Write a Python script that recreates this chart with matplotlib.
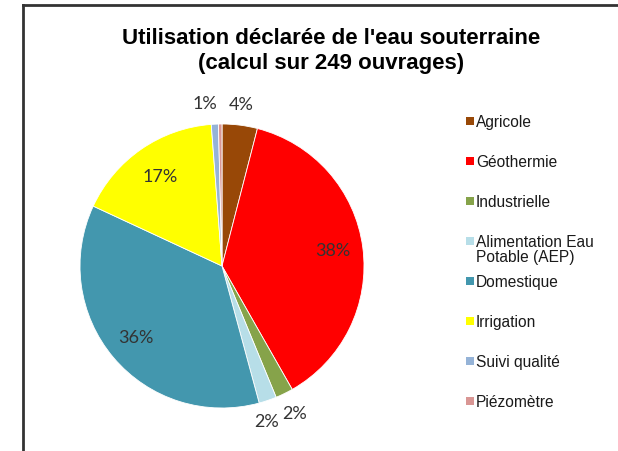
import numpy as np
import matplotlib.pyplot as plt
from matplotlib.lines import Line2D
from matplotlib.patches import Rectangle

labels = ["Agricole", "Géothermie", "Industrielle", "Alimentation Eau\nPotable (AEP)",
          "Domestique", "Irrigation", "Suivi qualité", "Piézomètre"]
counts = [10, 94, 5, 5, 90, 42, 2, 1]
pct_text = ["4%", "38%", "2%", "2%", "36%", "17%", "1%", ""]
colors = ["#984807", "#FF0000", "#86A34A", "#B7DEE8", "#4397AE", "#FFFF00", "#95B3D7", "#D99694"]

# label radius (fraction of pie radius) and sideways nudge per slice
lab_r = [1.14, 0.79, 1.16, 1.16, 0.79, 0.76, 1.14, 0]
lab_dx = [-0.01, 0, 0, -0.06, 0, 0, -0.06, 0]

W, H = 618, 451
fig = plt.figure(figsize=(W / 100, H / 100), dpi=100)

cx, cy, r = 222, 266, 142
ax = fig.add_axes([(cx - r) / W, (H - cy - r) / H, 2 * r / W, 2 * r / H])
wedges, _ = ax.pie(counts, colors=colors, startangle=90, counterclock=False,
                   radius=1, wedgeprops=dict(edgecolor="white", linewidth=0.6))
ax.set_xlim(-1, 1)
ax.set_ylim(-1, 1)
ax.set_aspect("equal")
ax.axis("off")

for w, t, rr, dx in zip(wedges, pct_text, lab_r, lab_dx):
    if not t:
        continue
    ang = np.deg2rad((w.theta1 + w.theta2) / 2)
    ax.text(rr * np.cos(ang) + dx, rr * np.sin(ang), t, ha="center", va="center",
            fontsize=13, family="Lato", color="#333333")

fig.text(331 / W, 1 - 51 / H, "Utilisation déclarée de l'eau souterraine\n(calcul sur 249 ouvrages)",
         ha="center", va="center", fontsize=16, fontweight="bold",
         family="Liberation Sans", linespacing=1.25)

# legend
for i, (lab, c) in enumerate(zip(labels, colors)):
    y = 121 + 40 * i
    fig.add_artist(Rectangle((466 / W, 1 - (y + 4) / H), 8 / W, 8 / H,
                             transform=fig.transFigure, facecolor=c, edgecolor="none"))
    fig.text(476 / W, 1 - (y - 6) / H, lab, ha="left", va="top", fontsize=11.2,
             family="Liberation Sans", color="#1a1a1a", linespacing=1.0)

# frame lines
fig.add_artist(Line2D([23 / W, 1], [1 - 5 / H, 1 - 5 / H], color="#333333", lw=2,
                      transform=fig.transFigure))
fig.add_artist(Line2D([23 / W, 23 / W], [0, 1 - 5 / H], color="#333333", lw=2,
                      transform=fig.transFigure))

fig.savefig("out.png", dpi=100)
